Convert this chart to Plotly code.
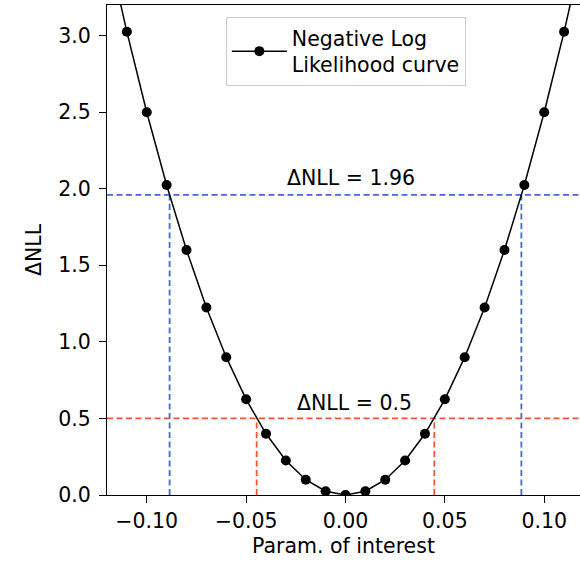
import plotly.graph_objects as go

# Data
param_x = [-0.12, -0.11, -0.10, -0.09, -0.08, -0.07, -0.06, -0.05, -0.04, -0.03, -0.02, -0.01,
           0.00, 0.01, 0.02, 0.03, 0.04, 0.05, 0.06, 0.07, 0.08, 0.09, 0.10, 0.11, 0.12]
delta_nll = [3.6, 3.025, 2.5, 2.025, 1.6, 1.225, 0.9, 0.625, 0.4, 0.225, 0.1, 0.025,
             0.0, 0.025, 0.1, 0.225, 0.4, 0.625, 0.9, 1.225, 1.6, 2.025, 2.5, 3.025, 3.6]
thresholds = [1.96, 0.5]
threshold_labels = ["ΔNLL = 1.96", "ΔNLL = 0.5"]
crossings = [0.0885, 0.0447]
threshold_colors = ["#4169E1", "#F0582A"]
x_ticks = [-0.10, -0.05, 0.00, 0.05, 0.10]
x_ticklabels = ["−0.10", "−0.05", "0.00", "0.05", "0.10"]
y_ticks = [0.0, 0.5, 1.0, 1.5, 2.0, 2.5, 3.0]

FONT = "DejaVu Sans"
FS = 20.5

fig = go.Figure()

for thr, cx, col in zip(thresholds, crossings, threshold_colors):
    dash = dict(color=col, width=1.8, dash="6px,3.5px")
    fig.add_trace(go.Scatter(x=[-0.12, 0.13], y=[thr, thr], mode="lines", line=dash,
                             showlegend=False, hoverinfo="skip"))
    for sx in (-cx, cx):
        fig.add_trace(go.Scatter(x=[sx, sx], y=[0, thr], mode="lines", line=dash,
                                 showlegend=False, hoverinfo="skip"))

fig.add_trace(go.Scatter(
    x=param_x, y=delta_nll, mode="lines+markers",
    name="Negative Log<br>Likelihood curve",
    line=dict(color="black", width=1.5),
    marker=dict(color="black", size=10),
))

label_pos = [(0.0027, 2.07), (0.0047, 0.60)]
for (lx, ly), txt in zip(label_pos, threshold_labels):
    fig.add_annotation(x=lx, y=ly, text=txt, showarrow=False,
                       font=dict(family=FONT, size=FS, color="black"))

fig.update_layout(
    width=580, height=561,
    margin=dict(l=107, r=0, t=5, b=66),
    plot_bgcolor="white", paper_bgcolor="white",
    font=dict(family=FONT, size=FS, color="black"),
    legend=dict(
        x=0.505, y=0.9755, xanchor="center", yanchor="top",
        bgcolor="rgba(255,255,255,0.9)", bordercolor="#cccccc", borderwidth=1,
        font=dict(family=FONT, size=FS), itemwidth=55,
    ),
    xaxis=dict(
        range=[-0.12, 0.118], tickvals=x_ticks, ticktext=x_ticklabels,
        showgrid=False, zeroline=False, showline=True, linecolor="black", linewidth=1.3,
        mirror=True, ticks="outside", ticklen=7, tickwidth=1.3, tickcolor="black",
        title=dict(text="Param. of interest", standoff=6, font=dict(size=FS)),
    ),
    yaxis=dict(
        range=[0, 3.2], tickvals=y_ticks, tickformat=".1f",
        showgrid=False, zeroline=False, showline=True, linecolor="black", linewidth=1.3,
        ticks="outside", ticklen=7, tickwidth=1.3, tickcolor="black",
        ticklabelstandoff=4,
        title=dict(text="ΔNLL", standoff=10, font=dict(size=FS)),
    ),
)

fig.write_html("out.html")
